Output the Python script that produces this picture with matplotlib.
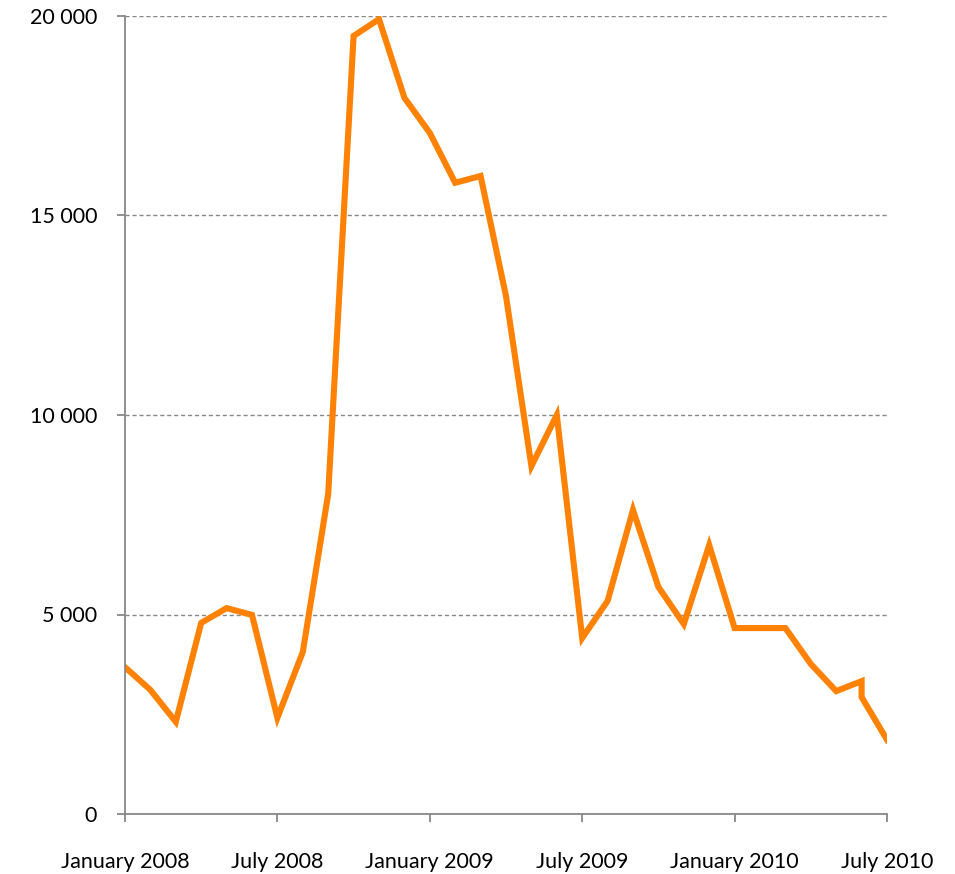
import matplotlib.pyplot as plt
import numpy as np

# monthly index: 0 = January 2008 ... 30 = July 2010 (June 2010 appears twice)
months = [0, 1, 2, 3, 4, 5, 6, 7, 8, 9, 10, 11,
          12, 13, 14, 15, 16, 17, 18, 19, 20, 21, 22, 23,
          24, 25, 26, 27, 28, 29, 29, 30]
values = [3680, 3110, 2310, 4790, 5160, 4990, 2410, 4060, 8020, 19500, 19920, 17950,
          17070, 15820, 15990, 12980, 8720, 10000, 4410, 5340, 7620, 5690, 4760, 6740,
          4660, 4660, 4660, 3760, 3080, 3330, 2930, 1860]

tick_pos = [0, 6, 12, 18, 24, 30]
tick_labels = ["January 2008", "July 2008", "January 2009", "July 2009", "January 2010", "July 2010"]
y_ticks = [0, 5000, 10000, 15000, 20000]
y_labels = ["0", "5 000", "10 000", "15 000", "20 000"]

plt.rcParams['font.family'] = ['Lato', 'DejaVu Sans']

fig = plt.figure(figsize=(9.55, 8.74), dpi=100)
ax = fig.add_axes([125/955, 1 - 814/874, (887-125)/955, (814-16)/874])

ax.plot(months, values, color="#FF8205", linewidth=4.4, solid_joinstyle="miter")

ax.set_xlim(0, 30)
ax.set_ylim(0, 20000)
ax.set_xticks(tick_pos)
ax.set_xticklabels(tick_labels, fontsize=15.5)
ax.set_yticks(y_ticks)
ax.set_yticklabels(y_labels, fontsize=15.5)

ax.grid(axis='y', linestyle=(0, (3, 2)), color="#888888", linewidth=1)
ax.set_axisbelow(True)
for s in ["top", "right"]:
    ax.spines[s].set_visible(False)
for s in ["left", "bottom"]:
    ax.spines[s].set_color("#888888")
    ax.spines[s].set_linewidth(1.3)
ax.tick_params(axis='x', direction='out', length=6, width=1.3, color="#888888", pad=21)
ax.tick_params(axis='y', direction='out', length=6, width=1.3, color="#888888", pad=14)

fig.savefig("out.png", dpi=100)
